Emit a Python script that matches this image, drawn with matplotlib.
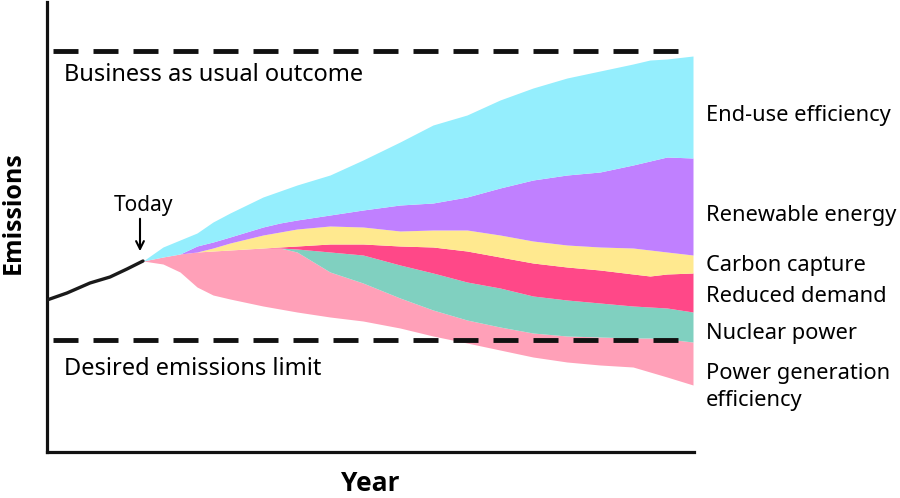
import numpy as np
import matplotlib
matplotlib.use("Agg")
import matplotlib.pyplot as plt

plt.rcParams['font.family'] = ['Noto Sans', 'DejaVu Sans']

# ---- data (arbitrary units) ----
years = [96, 116, 133, 150, 166, 183, 216, 233, 250, 283, 316, 353, 386, 420,
         453, 486, 520, 553, 586, 603, 620, 646]
# resulting emissions path (bottom of the wedges)
emissions_path = [191, 188, 180, 165, 157, 153, 146, 143, 140, 135, 131, 124,
                  116, 109, 102, 95, 90, 87, 85, 80, 75, 67]
# reduction wedges, from bottom to top
power_gen_eff = [0, 7, 18, 35, 44, 49, 58, 61, 60, 45, 38, 30, 26, 23, 23, 24,
                 26, 28, 29, 34, 38, 43]
nuclear = [0, 0, 0, 0, 0, 0, 0, 0, 3, 20, 28, 33, 37, 38, 39, 37, 36, 34, 32,
           31, 31, 30]
reduced_demand = [0, 0, 0, 0, 0, 0, 0, 1, 3, 8, 11, 19, 26, 31, 31, 33, 33, 33,
                  32, 31, 34, 39]
carbon_capture = [0, 0, 0, 0, 3, 7, 13, 15, 17, 18, 17, 15, 17, 21, 22, 22, 22,
                  23, 26, 26, 22, 18]
renewable = [0, 0, 0, 6, 6, 6, 8, 9, 9, 11, 17, 26, 27, 33, 47, 61, 70, 75, 83,
             89, 95, 97]
end_use_eff = [0, 10, 14, 13, 20, 24, 30, 32, 35, 40, 50, 63, 78, 82, 88, 92,
               97, 101, 101, 101, 98, 102]

hist_years = [0, 20, 43, 63, 80, 96]
hist_emissions = [152, 159, 169, 175, 183, 191]

bau_level = 401
limit_level = 112

labels = ["Power generation\nefficiency", "Nuclear power", "Reduced demand",
          "Carbon capture", "Renewable energy", "End-use efficiency"]
colors = ["#FFA0B8", "#80D0C0", "#FF4888", "#FFE98F", "#C080FF", "#94EEFD"]
label_y = [65, 118, 155, 187, 237, 336]

# ---- figure ----
fig = plt.figure(figsize=(9, 4.98), dpi=100)
ax = fig.add_axes([47/900, 46/498, 647/900, 450/498])

x = np.array(years, dtype=float)
bottom = np.array(emissions_path, dtype=float)
for series, col in zip([power_gen_eff, nuclear, reduced_demand, carbon_capture,
                        renewable, end_use_eff], colors):
    top = bottom + np.array(series, dtype=float)
    ax.fill_between(x, bottom, top, color=col, linewidth=0, zorder=2)
    bottom = top

ax.plot(hist_years, hist_emissions, color="#1a1a1a", lw=2.4,
        solid_capstyle="round", zorder=3)

lw = 3.5
for lvl in (bau_level, limit_level):
    ax.plot([6, 631], [lvl, lvl], color="#111111", lw=lw,
            dashes=(18/lw, 10.8/lw), dash_capstyle="butt", zorder=4)

ax.text(17, 377, "Business as usual outcome", fontsize=17, va="center",
        ha="left")
ax.text(17, 83, "Desired emissions limit", fontsize=17, va="center",
        ha="left")
ax.text(96, 246, "Today", fontsize=15, va="center", ha="center")
ax.annotate("", xy=(93, 198), xytext=(93, 236),
            arrowprops=dict(arrowstyle="->", color="black", lw=1.5,
                            mutation_scale=14))

for lab, ly in zip(labels, label_y):
    ax.text(659, ly, lab, fontsize=15.7, va="center", ha="left",
            clip_on=False, linespacing=1.38)

ax.set_xlim(0, 647)
ax.set_ylim(0, 450)
ax.set_xticks([])
ax.set_yticks([])
for s in ("top", "right"):
    ax.spines[s].set_visible(False)
for s in ("left", "bottom"):
    ax.spines[s].set_linewidth(2.3)
    ax.spines[s].set_color("#111111")

bold_fam = ['Open Sans', 'DejaVu Sans']
fig.text(13/900, 1-213/498, "Emissions", rotation=90, fontsize=18,
         fontweight="bold", family=bold_fam, ha="center", va="center")
fig.text(370/900, 1-483/498, "Year", fontsize=19, fontweight="bold",
         family=bold_fam, ha="center", va="center")

fig.savefig("out.png", dpi=100)
